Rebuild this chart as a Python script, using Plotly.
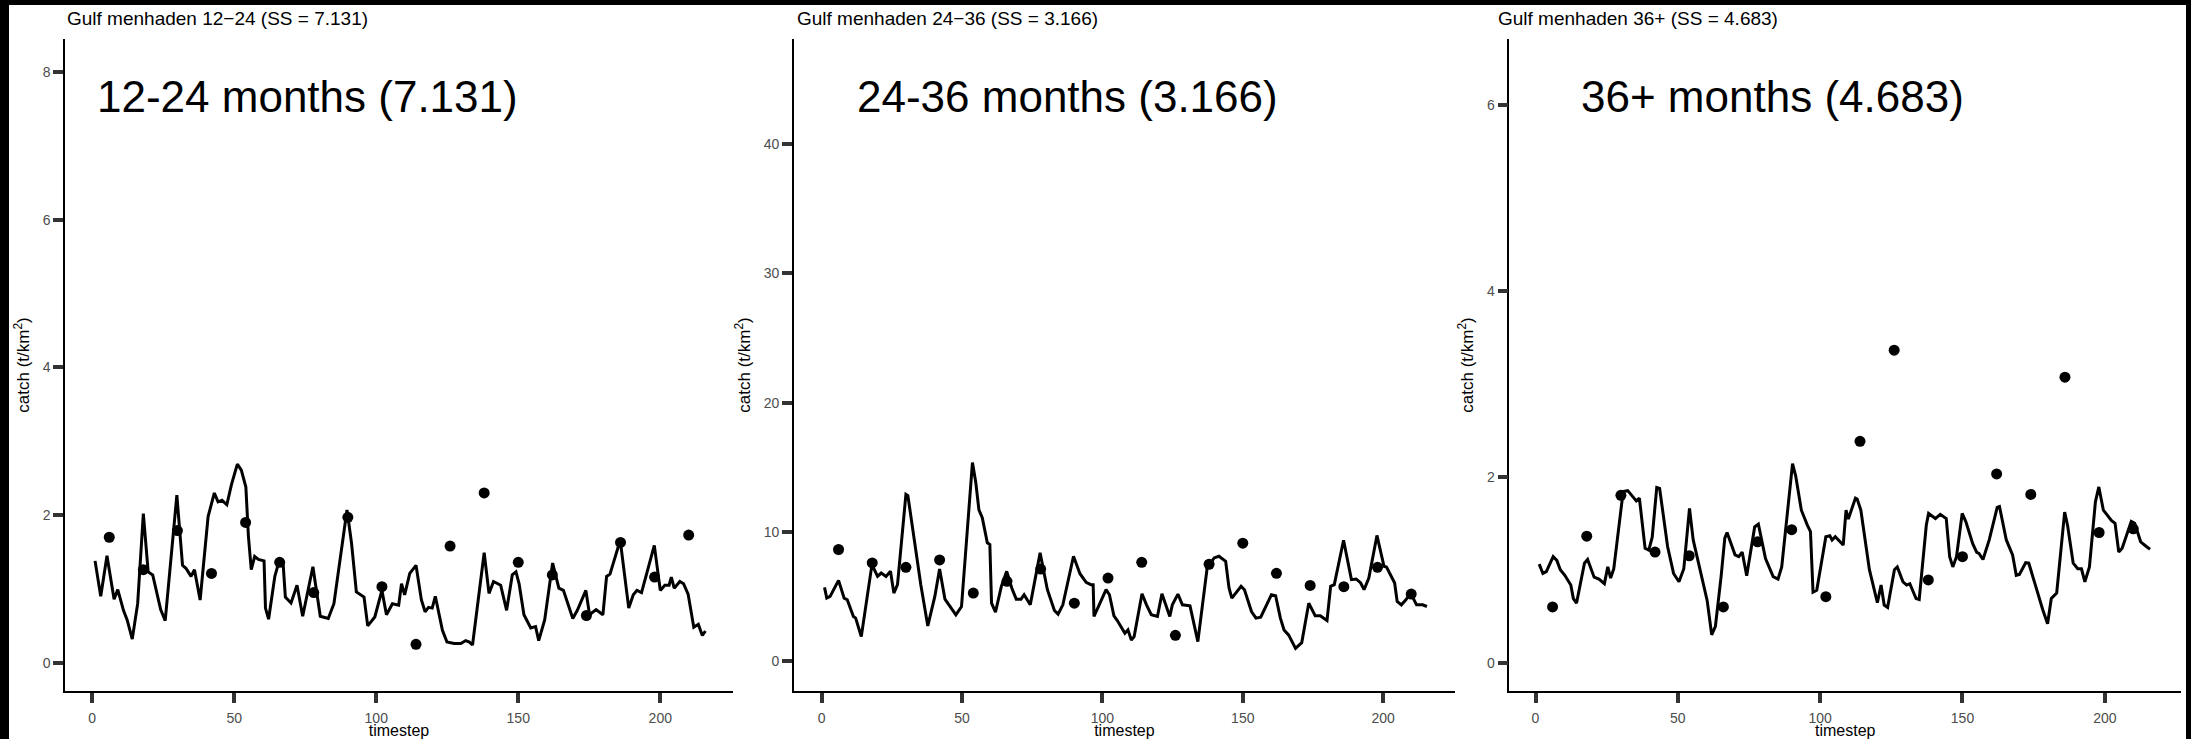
import plotly.graph_objects as go

# ---------------- data ----------------
panel_titles = ["Gulf menhaden 12\u221224 (SS = 7.131)",
                "Gulf menhaden 24\u221236 (SS = 3.166)",
                "Gulf menhaden 36+ (SS = 4.683)"]
panel_labels = ["12-24 months (7.131)", "24-36 months (3.166)", "36+ months (4.683)"]

obs_t = [6, 18, 30, 42, 54, 66, 78, 90, 102, 114, 126, 138, 150, 162, 174, 186, 198, 210]

obs_1224 = [1.70, 1.26, 1.79, 1.21, 1.90, 1.36, 0.95, 1.97, 1.03, 0.25, 1.58, 2.30,
            1.36, 1.19, 0.64, 1.63, 1.16, 1.73]
obs_2436 = [8.63, 7.59, 7.25, 7.82, 5.26, 6.17, 7.12, 4.48, 6.42, 7.64, 1.99, 7.49,
            9.12, 6.79, 5.85, 5.75, 7.25, 5.18]
obs_36p = [0.60, 1.36, 1.80, 1.19, 1.15, 0.60, 1.30, 1.43, 0.71, 2.38, 3.36, 0.89,
           1.14, 2.03, 1.81, 3.07, 1.40, 1.44]

mod_t_1224 = [1, 3, 5.2, 7.7, 9, 11, 12.3, 14.1, 16, 18, 19.7, 21.3, 24.1, 25.7, 29.8,
              31.8, 33, 34.8, 36, 38, 40.8, 43, 44.3, 45.7, 47.4, 49, 51.1, 52.5, 54.1,
              55, 56, 57.2, 58.5, 60.5, 61, 62.1, 64.3, 65.9, 67.2, 68, 70, 72.1, 74.1,
              77.7, 80.3, 83.1, 85.1, 89.7, 91.3, 93, 95.7, 97, 99.5, 102, 103.6, 105.7,
              107.9, 108.9, 110, 111.8, 114, 115.9, 117.2, 118.4, 119.7, 120.8, 123.3,
              124.9, 127.4, 129.8, 131.5, 132.8, 133.9, 138, 139.7, 141.3, 143.8, 145.9,
              147.9, 149.2, 150.3, 152, 154.4, 156.1, 157.2, 159.3, 162.1, 164.3, 165.9,
              169.2, 170.8, 173.8, 175.1, 177.4, 179.8, 181.1, 182.3, 185.9, 188.9,
              190.5, 191.8, 193.4, 197.9, 200, 201.6, 203.1, 203.9, 204.9, 206.9, 208.2,
              209.8, 211.8, 213.4, 214.8, 215.9]
mod_v_1224 = [1.38, 0.90, 1.45, 0.86, 0.99, 0.71, 0.58, 0.32, 0.80, 2.02, 1.23, 1.19,
              0.72, 0.57, 2.27, 1.32, 1.28, 1.17, 1.26, 0.85, 1.98, 2.30, 2.18, 2.20,
              2.14, 2.41, 2.69, 2.61, 2.38, 1.71, 1.26, 1.44, 1.40, 1.38, 0.74, 0.59,
              1.17, 1.39, 1.35, 0.89, 0.81, 1.05, 0.63, 1.30, 0.63, 0.60, 0.80, 2.07,
              1.62, 0.96, 0.89, 0.50, 0.62, 0.98, 0.65, 0.80, 0.78, 1.07, 0.92, 1.21,
              1.32, 0.85, 0.69, 0.75, 0.74, 0.90, 0.44, 0.28, 0.26, 0.26, 0.30, 0.28,
              0.24, 1.49, 0.94, 1.10, 1.05, 0.71, 1.19, 1.23, 1.07, 0.65, 0.47, 0.49,
              0.30, 0.58, 1.35, 1.01, 0.98, 0.60, 0.71, 0.98, 0.65, 0.72, 0.65, 1.17,
              1.20, 1.66, 0.74, 0.92, 0.98, 0.95, 1.59, 0.98, 1.05, 1.05, 1.16, 1.01,
              1.10, 1.07, 0.93, 0.48, 0.52, 0.37, 0.43]

mod_t_2436 = [1, 1.8, 3, 6, 8, 9.1, 11.3, 12.1, 14.1, 17.9, 19.9, 21.2, 22.9, 24.5, 25.7,
              27, 30, 30.7, 35.3, 37.8, 40.3, 42, 43.9, 47.8, 49.8, 53.7, 54.9, 56, 57.2,
              59, 59.9, 60.5, 61.9, 64, 65.9, 67.7, 69.3, 71, 72.1, 74.3, 77.8, 80.4,
              82.9, 84.2, 85.9, 89.7, 92, 94.2, 95.9, 96.7, 97, 99.2, 101.3, 102.5,
              104.1, 105.3, 108, 109.1, 110.3, 111.3, 114.1, 115.7, 117.4, 119.6, 121.2,
              124, 124.9, 126.9, 128.5, 131.2, 134, 137.3, 139.8, 141.5, 143.9, 145.1,
              146.1, 149.4, 150.6, 153.1, 154.7, 156.4, 160.2, 161.7, 163.4, 164.7,
              166.3, 168.8, 171, 173.5, 175.8, 177.6, 180, 181.3, 182.6, 185.9, 188.7,
              190.4, 192, 193.2, 194.9, 197.8, 200.3, 201.2, 203.6, 204.1, 205, 206.5,
              208.1, 209.8, 211.9, 214.1, 215.6]
mod_v_2436 = [5.70, 4.87, 5.00, 6.24, 4.87, 4.74, 3.45, 3.32, 1.89, 7.46, 6.55, 6.81,
              6.55, 6.94, 5.26, 5.91, 12.9, 12.8, 5.91, 2.72, 5.00, 7.12, 4.79, 3.58,
              4.22, 15.36, 13.8, 11.7, 11.1, 9.15, 9.02, 4.48, 3.78, 5.78, 6.94, 5.65,
              4.79, 4.79, 5.13, 4.35, 8.37, 5.52, 3.91, 3.63, 4.35, 8.11, 6.76, 6.09,
              5.91, 5.91, 3.45, 4.48, 5.52, 5.13, 3.50, 3.13, 2.15, 2.41, 1.63, 1.89,
              5.21, 4.35, 3.58, 3.45, 5.21, 3.45, 4.35, 5.18, 4.35, 4.27, 1.50, 7.20,
              7.98, 8.11, 7.72, 5.65, 4.87, 5.78, 5.52, 3.83, 3.32, 3.39, 5.13, 5.05,
              3.32, 2.41, 2.02, 0.98, 1.42, 4.48, 3.50, 3.50, 3.13, 5.78, 5.91, 9.35,
              6.30, 6.35, 6.04, 5.52, 6.42, 9.72, 7.33, 7.28, 6.17, 6.04, 4.61, 4.35,
              4.74, 5.26, 4.35, 4.35, 4.22]

mod_t_36p = [1.3, 2.6, 3.8, 6.2, 7.5, 8.7, 10.3, 12.4, 13.3, 14.4, 17.2, 18.3, 20.6, 22.3,
             24.2, 25.4, 26.4, 27.5, 30, 30.8, 32.4, 35.4, 36.5, 38.5, 39.8, 41, 42.6,
             43.6, 46.4, 48.5, 50.4, 52.1, 54.1, 55.4, 57.8, 59.8, 60.3, 61.9, 63.2,
             65.2, 66.5, 67.3, 70.1, 71.4, 72.6, 74.2, 77, 78.3, 80.8, 83.5, 85.2, 86.5,
             90.3, 91.4, 93.4, 95.5, 96.6, 97.5, 98.8, 102, 103.4, 104.2, 105.3, 108.1,
             109.1, 109.9, 112.4, 113, 114.3, 117.3, 120.1, 121.4, 122.5, 123.7, 126.1,
             127.1, 129.1, 130.4, 131.5, 133.7, 134.8, 137.3, 138.1, 140.5, 142.2,
             144.3, 145.5, 146.6, 147.9, 149.9, 151.2, 153.6, 155, 155.8, 157.2, 159.4,
             162.2, 163, 165.4, 167.6, 168.9, 170, 172.2, 173.3, 176.6, 178.2, 179.9,
             181.2, 183.1, 185.9, 186.9, 188.9, 190.5, 191.8, 193, 194.6, 196.7, 197.9,
             199.5, 201.2, 202.3, 203.6, 204.9, 206.1, 209.3, 210.5, 212.6, 214.6, 215.9]
mod_v_36p = [1.06, 0.96, 0.98, 1.14, 1.10, 1.00, 0.94, 0.835, 0.69, 0.64, 1.07, 1.11,
             0.92, 0.90, 0.85, 1.03, 0.91, 1.01, 1.64, 1.84, 1.85, 1.74, 1.77, 1.23,
             1.21, 1.35, 1.885, 1.875, 1.25, 0.96, 0.87, 1.01, 1.66, 1.32, 1.00, 0.73,
             0.67, 0.30, 0.39, 0.925, 1.34, 1.40, 1.16, 1.14, 1.19, 0.935, 1.46, 1.49,
             1.12, 0.925, 0.90, 1.03, 2.14, 2.01, 1.64, 1.48, 1.41, 0.76, 0.78, 1.355,
             1.365, 1.32, 1.355, 1.265, 1.64, 1.545, 1.77, 1.76, 1.64, 1.00, 0.645,
             0.835, 0.62, 0.595, 1.00, 1.03, 0.87, 0.835, 0.85, 0.69, 0.68, 1.48, 1.605,
             1.55, 1.595, 1.55, 1.14, 1.03, 1.14, 1.605, 1.515, 1.28, 1.186, 1.175,
             1.11, 1.32, 1.67, 1.68, 1.32, 1.16, 0.94, 0.95, 1.075, 1.07, 0.73, 0.57,
             0.42, 0.69, 0.75, 1.62, 1.48, 1.07, 1.01, 1.01, 0.87, 1.03, 1.73, 1.89,
             1.64, 1.57, 1.53, 1.50, 1.19, 1.23, 1.52, 1.50, 1.30, 1.25, 1.22]

x_ticks = [0, 50, 100, 150, 200]
y_ticks = [[0, 2, 4, 6, 8], [0, 10, 20, 30, 40], [0, 2, 4, 6]]

# ---------------- layout helpers ----------------
W, H = 2191, 739
FONT = "Liberation Sans, Arial, sans-serif"

x_dom_px = [(65.2, 732.7), (793.8, 1455.0), (1509.4, 2181.0)]
y_dom_px = (39, 691)
x_ranges = [[-9.51, 225.5], [-9.94, 225.6], [-9.17, 226.77]]
y_ranges = [[-0.383, 8.45], [-2.32, 48.14], [-0.304, 6.706]]
title_x_px = [65, 795, 1496]
label_x_px = [95, 855, 1579]

lines = [(mod_t_1224, mod_v_1224), (mod_t_2436, mod_v_2436), (mod_t_36p, mod_v_36p)]
obs = [obs_1224, obs_2436, obs_36p]

fig = go.Figure()
layout = dict(width=W, height=H, margin=dict(l=0, r=0, t=0, b=0),
              paper_bgcolor="white", plot_bgcolor="white", showlegend=False,
              font=dict(family=FONT, color="black", size=14))
annotations = []

for i in range(3):
    xa = "x" if i == 0 else f"x{i+1}"
    ya = "y" if i == 0 else f"y{i+1}"
    t, v = lines[i]
    fig.add_trace(go.Scatter(x=t, y=v, mode="lines", xaxis=xa, yaxis=ya,
                             line=dict(color="black", width=3), hoverinfo="skip"))
    fig.add_trace(go.Scatter(x=obs_t, y=obs[i], mode="markers", xaxis=xa, yaxis=ya,
                             marker=dict(color="black", size=11), hoverinfo="skip"))
    axis_common = dict(showgrid=False, zeroline=False, showline=True, linecolor="black",
                       linewidth=1.5, ticks="outside", ticklen=10, tickwidth=4,
                       tickcolor="#333333", tickfont=dict(size=14, color="#4D4D4D", family=FONT))
    xkey = "xaxis" if i == 0 else f"xaxis{i+1}"
    ykey = "yaxis" if i == 0 else f"yaxis{i+1}"
    layout[xkey] = dict(axis_common, domain=[x_dom_px[i][0] / W, x_dom_px[i][1] / W],
                        range=x_ranges[i], tickvals=x_ticks, anchor=ya, ticklabelstandoff=3,
                        title=dict(text="timestep", font=dict(size=16, family=FONT), standoff=0))
    layout[ykey] = dict(axis_common, domain=[1 - y_dom_px[1] / H, 1 - y_dom_px[0] / H],
                        range=y_ranges[i], tickvals=y_ticks[i], anchor=xa,
                        title=dict(text="catch (t/km<sup>2</sup>)", font=dict(size=17, family=FONT),
                                   standoff=9))
    annotations.append(dict(text=panel_titles[i], x=title_x_px[i] / W, y=1 - 19 / H,
                            xref="paper", yref="paper", xanchor="left", yanchor="middle",
                            showarrow=False, font=dict(size=19, family=FONT, color="black")))
    annotations.append(dict(text=panel_labels[i], x=label_x_px[i] / W, y=1 - 96 / H,
                            xref="paper", yref="paper", xanchor="left", yanchor="middle",
                            showarrow=False, font=dict(size=44, family=FONT, color="black")))

layout["annotations"] = annotations
layout["shapes"] = [
    dict(type="rect", xref="paper", yref="paper", x0=0, x1=9 / W, y0=0, y1=1,
         fillcolor="black", line=dict(width=0), layer="above"),
    dict(type="rect", xref="paper", yref="paper", x0=0, x1=1, y0=1 - 5 / H, y1=1,
         fillcolor="black", line=dict(width=0), layer="above"),
    dict(type="rect", xref="paper", yref="paper", x0=2186 / W, x1=1, y0=0, y1=1,
         fillcolor="black", line=dict(width=0), layer="above"),
]
fig.update_layout(**layout)
fig.write_html("out.html", config={"displayModeBar": False},
               post_script="document.body.style.margin='0';document.body.style.overflow='hidden';")
